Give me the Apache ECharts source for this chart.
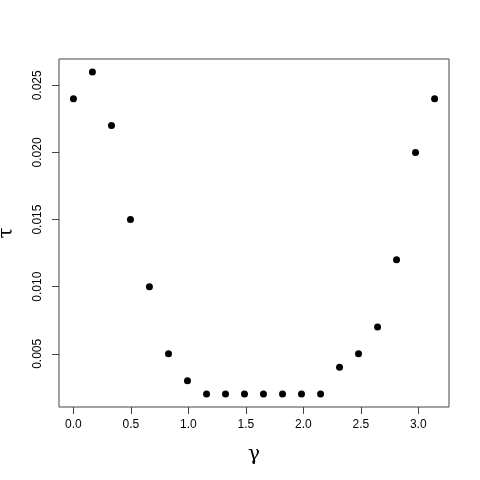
<!DOCTYPE html>
<html>
<head>
<meta charset="utf-8">
<script src="https://cdn.jsdelivr.net/npm/echarts@6/dist/echarts.min.js"></script>
<style>
html, body { margin: 0; padding: 0; background: #fff; }
#chart { width: 480px; height: 480px; }
</style>
</head>
<body>
<div id="chart"></div>
<script>
// gamma values (x) and tau values (y)
const gammaVals = [0, 0.165, 0.331, 0.496, 0.661, 0.827, 0.992, 1.158, 1.323, 1.488,
                   1.653, 1.819, 1.984, 2.150, 2.315, 2.480, 2.646, 2.811, 2.976, 3.142];
const tauVals = [0.024, 0.026, 0.022, 0.015, 0.010, 0.005, 0.003, 0.002, 0.002, 0.002,
                 0.002, 0.002, 0.002, 0.002, 0.004, 0.005, 0.007, 0.012, 0.020, 0.024];
const xTicks = [0, 0.5, 1, 1.5, 2, 2.5, 3];
const yTicks = [0.005, 0.010, 0.015, 0.020, 0.025];

const pts = gammaVals.map((g, i) => [g, tauVals[i]]);
const font = 'Liberation Sans, Arial, sans-serif';
const greek = 'DejaVu Serif, serif';
const yMin = 0.00104, yMax = 0.02696;

const chart = echarts.init(document.getElementById('chart'));
chart.setOption({
    animation: false,
    grid: {
        left: 59, right: 31, top: 59, bottom: 73,
        outerBoundsMode: 'none', containLabel: false,
        show: true, borderColor: '#444', borderWidth: 1
    },
    xAxis: {
        type: 'value',
        min: -0.1257, max: 3.2673,
        name: 'γ', nameLocation: 'middle', nameGap: 38, nameMoveOverlap: false,
        nameTextStyle: { fontFamily: greek, fontSize: 20, color: '#000' },
        axisLine: { show: false, onZero: false },
        splitLine: { show: false },
        axisTick: { show: true, inside: false, length: 7, lineStyle: { color: '#444' }, customValues: xTicks },
        axisLabel: {
            customValues: xTicks, margin: 12, color: '#000', fontFamily: font, fontSize: 12,
            formatter: v => v.toFixed(1)
        }
    },
    yAxis: [{
        type: 'value',
        position: 'left',
        min: yMin, max: yMax,
        name: 'τ', nameLocation: 'middle', nameGap: 42, nameRotate: 90, nameMoveOverlap: false,
        nameTextStyle: { fontFamily: greek, fontSize: 20, color: '#000' },
        axisLine: { show: false, onZero: false },
        splitLine: { show: false },
        axisTick: { show: false },
        axisLabel: {
            customValues: yTicks, rotate: 90, margin: 15, color: '#000', fontFamily: font, fontSize: 12,
            formatter: v => v.toFixed(3)
        }
    }, {
        // tick-only axis, moved across from the right edge onto the left edge
        type: 'value',
        position: 'right',
        offset: -390,
        min: yMin, max: yMax,
        axisLine: { show: false, onZero: false },
        splitLine: { show: false },
        axisLabel: { show: false },
        axisTick: { show: true, inside: true, length: 7, lineStyle: { color: '#444', width: 1 }, customValues: yTicks }
    }],
    series: [{
        type: 'scatter',
        yAxisIndex: 0,
        data: pts,
        symbol: 'circle',
        symbolSize: 7,
        itemStyle: { color: '#000', opacity: 1 }
    }]
});
</script>
</body>
</html>
